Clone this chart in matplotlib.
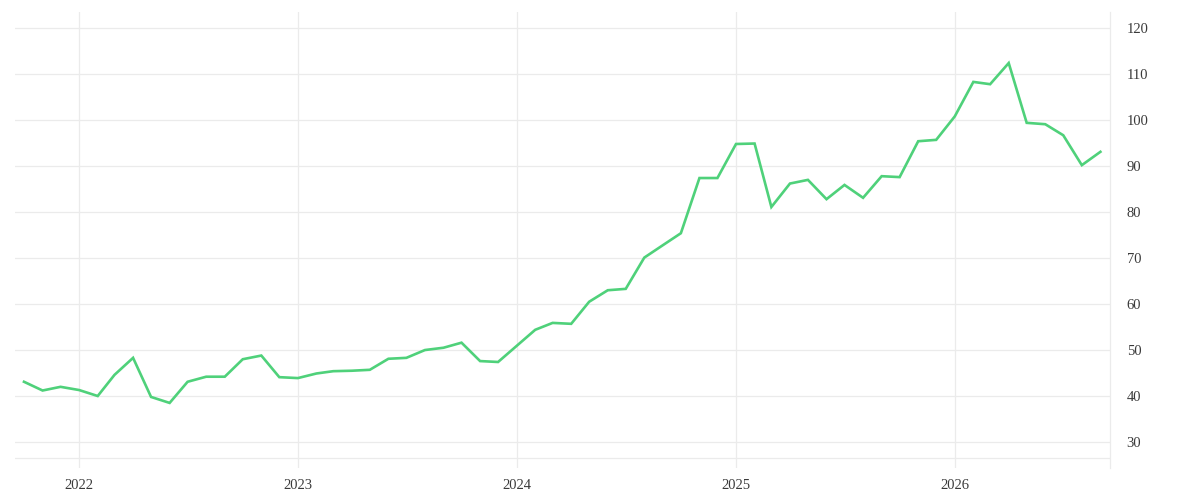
import matplotlib
matplotlib.use("Agg")
import matplotlib.pyplot as plt
import pandas as pd

dates = pd.date_range("2021-10-01", "2026-09-01", freq="MS")
values = [
    43.1, 41.2, 42.0,
    41.3, 40.0, 44.6, 48.3, 39.8, 38.5, 43.1, 44.2, 44.2, 48.0, 48.8, 44.1,
    43.9, 44.9, 45.4, 45.5, 45.7, 48.1, 48.3, 50.0, 50.5, 51.6, 47.6, 47.4,
    50.9, 54.4, 55.9, 55.7, 60.5, 63.0, 63.3, 70.1, 72.8, 75.4, 87.4, 87.4,
    94.8, 94.9, 81.1, 86.2, 87.0, 82.8, 85.9, 83.1, 87.8, 87.6, 95.4, 95.7,
    100.8, 108.3, 107.8, 112.4, 99.4, 99.1, 96.7, 90.2, 93.1,
]
y_ticks = [30, 40, 50, 60, 70, 80, 90, 100, 110, 120]
x_ticks = ["2022-01-01", "2023-01-01", "2024-01-01", "2025-01-01", "2026-01-01"]
x_tick_labels = ["2022", "2023", "2024", "2025", "2026"]

grid_c = "#ebebeb"
plt.rcParams["font.family"] = ["Liberation Serif", "DejaVu Serif"]

fig = plt.figure(figsize=(12, 5), dpi=100)
ax = fig.add_axes([15 / 1200, 1 - 468 / 500, (1110 - 15) / 1200, (468 - 12) / 500])

ax.plot(dates, values, color="#4fd17a", lw=1.9, solid_joinstyle="miter", zorder=3)

ax.set_xlim(pd.Timestamp("2021-09-16"), pd.Timestamp("2026-09-17"))
ax.set_ylim(24.35, 123.5)

ax.yaxis.tick_right()
ax.set_yticks(y_ticks)
ax.set_yticklabels([str(v) for v in y_ticks])
ax.set_xticks([pd.Timestamp(d) for d in x_ticks])
ax.set_xticklabels(x_tick_labels)

ax.tick_params(axis="both", length=0, labelsize=10.5, labelcolor="#3a3a3a")
ax.tick_params(axis="y", pad=12)
ax.tick_params(axis="x", pad=8)

ax.grid(True, color=grid_c, lw=0.9, zorder=0)
ax.axhline(26.5, color=grid_c, lw=0.9, zorder=0)

for s in ["left", "top", "bottom"]:
    ax.spines[s].set_visible(False)
ax.spines["right"].set_color(grid_c)
ax.spines["right"].set_linewidth(0.9)

fig.savefig("out.png", dpi=100)
